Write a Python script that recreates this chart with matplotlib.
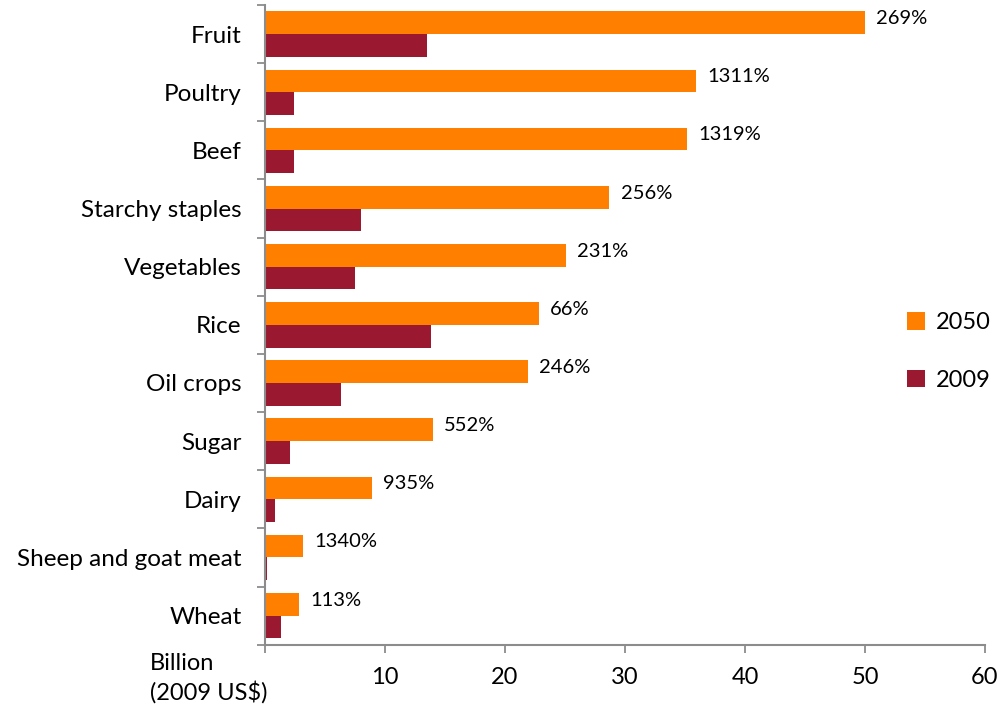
import matplotlib
matplotlib.use("Agg")
import matplotlib.pyplot as plt
import numpy as np

plt.rcParams['font.family'] = ['Lato', 'DejaVu Sans']

# food groups, top to bottom
categories = ['Fruit', 'Poultry', 'Beef', 'Starchy staples', 'Vegetables', 'Rice',
              'Oil crops', 'Sugar', 'Dairy', 'Sheep and goat meat', 'Wheat']
value_2050 = [50.0, 35.9, 35.2, 28.7, 25.1, 22.8, 21.9, 14.0, 8.9, 3.2, 2.85]
value_2009 = [13.5, 2.4, 2.4, 8.0, 7.5, 13.8, 6.3, 2.05, 0.85, 0.2, 1.3]
growth = ['269%', '1311%', '1319%', '256%', '231%', '66%', '246%', '552%', '935%',
          '1340%', '113%']

ORANGE = '#FF7F00'
MAROON = '#9A1830'
AXIS_GREY = '#8C8C8C'

fig = plt.figure(figsize=(10, 7.1), dpi=100)
ax = fig.add_axes([0.265, 0.092, 0.72, 0.901])

n = len(categories)
y = np.arange(n)
h = 0.39
ax.barh(y - h / 2, value_2050, height=h, color=ORANGE, label='2050')
ax.barh(y + h / 2, value_2009, height=h, color=MAROON, label='2009')

for yi, v, txt in zip(y, value_2050, growth):
    ax.annotate(txt, (v, yi - h / 2), xytext=(8, 3), textcoords='offset points',
                ha='left', va='center', fontsize=14.5)

ax.set_ylim(n - 0.5, -0.5)
ax.set_xlim(0, 60)

# category labels sit between the separator ticks
ax.set_yticks(y)
ax.set_yticklabels(categories, fontsize=17.5)
ax.set_yticks(np.arange(n + 1) - 0.5, minor=True)
ax.tick_params(axis='y', which='major', length=0, pad=17)
ax.tick_params(axis='y', which='minor', length=6, width=1.3, color=AXIS_GREY,
               direction='out')

ax.set_xticks(np.arange(0, 61, 10))
ax.set_xticklabels([''] + [str(t) for t in range(10, 61, 10)], fontsize=17)
ax.tick_params(axis='x', length=6, width=1.3, color=AXIS_GREY, pad=10)

for side in ('top', 'right'):
    ax.spines[side].set_visible(False)
for side in ('left', 'bottom'):
    ax.spines[side].set_color(AXIS_GREY)
    ax.spines[side].set_linewidth(1.5)

fig.text(0.150, 0.044, 'Billion\n(2009 US\\$)', ha='left', va='center',
         fontsize=17, linespacing=1.35)

leg = ax.legend(loc='center left', bbox_to_anchor=(0.898, 0.505),
                bbox_transform=fig.transFigure, frameon=False, fontsize=17,
                handlelength=0.75, handleheight=0.75, handletextpad=0.45,
                labelspacing=1.55, borderaxespad=0)

fig.savefig('out.png', dpi=100)
